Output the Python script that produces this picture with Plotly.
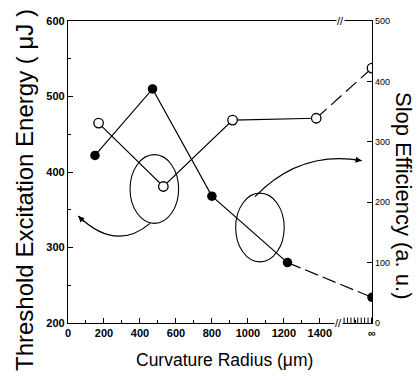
import plotly.graph_objects as go

# ---- data ----
X_INF = 1690  # axis position used for the "infinite" radius
radius_filled = [150, 470, 800, 1220, X_INF]
threshold_energy = [422, 510, 368, 280, 234]          # left axis (uJ)
radius_open = [170, 530, 915, 1380, X_INF]
slope_efficiency = [331, 226, 336, 339, 422]          # right axis (a.u.)
x_tick_vals = [0, 200, 400, 600, 800, 1000, 1200, 1400, X_INF]
x_tick_text = ["0", "200", "400", "600", "800", "1000", "1200", "1400", "∞"]
y_left_ticks = [200, 300, 400, 500, 600]
y_right_ticks = [0, 100, 200, 300, 400, 500]

FONT = "Liberation Sans, Arial"
TITLE_FONT = "Liberation Sans, Arial"

fig = go.Figure()

# filled circles: threshold energy (solid then dashed last segment)
fig.add_trace(go.Scatter(x=radius_filled[:4], y=threshold_energy[:4], mode="lines",
                         line=dict(color="black", width=1.2), showlegend=False))
fig.add_trace(go.Scatter(x=radius_filled[3:], y=threshold_energy[3:], mode="lines",
                         line=dict(color="black", width=1.2, dash="14px,5px"), showlegend=False))
fig.add_trace(go.Scatter(x=radius_filled, y=threshold_energy, mode="markers",
                         marker=dict(color="black", size=9.5, symbol="circle"), showlegend=False))

# open circles: slope efficiency on right axis
fig.add_trace(go.Scatter(x=radius_open[:4], y=slope_efficiency[:4], mode="lines", yaxis="y2",
                         line=dict(color="black", width=1.2), showlegend=False))
fig.add_trace(go.Scatter(x=radius_open[3:], y=slope_efficiency[3:], mode="lines", yaxis="y2",
                         line=dict(color="black", width=1.2, dash="14px,6px"), showlegend=False))
fig.add_trace(go.Scatter(x=radius_open, y=slope_efficiency, mode="markers", yaxis="y2",
                         marker=dict(color="white", size=9.5, symbol="circle",
                                     line=dict(color="black", width=1.3)), showlegend=False))

shapes = []
# ellipses marking the series
shapes.append(dict(type="circle", xref="x", yref="y", x0=345, x1=615, y0=332, y1=423,
                   line=dict(color="black", width=1.1)))
shapes.append(dict(type="circle", xref="x", yref="y", x0=932, x1=1202, y0=281, y1=372,
                   line=dict(color="black", width=1.1)))
# curved arrows
shapes.append(dict(type="path", xref="x", yref="y",
                   path="M 456,332 Q 266,293.6 57.3,341.7",
                   line=dict(color="black", width=1.2)))
shapes.append(dict(type="path", xref="x", yref="y",
                   path="M 1039.5,367.3 Q 1289.6,429.1 1632.6,415",
                   line=dict(color="black", width=1.2)))
# dense ticks after the axis break
for i in range(9):
    xv = 1535 + i * 19
    shapes.append(dict(type="line", xref="x", yref="paper", x0=xv, x1=xv, y0=0, y1=0.018,
                       line=dict(color="black", width=1)))
fig.update_layout(shapes=shapes)

annotations = [
    dict(x=57.3, y=341.7, xref="x", yref="y", ax=7, ay=7, showarrow=True,
         arrowhead=2, arrowsize=1, arrowwidth=1.2, arrowcolor="black", text="", standoff=0),
    dict(x=1632.6, y=415, xref="x", yref="y", ax=-9, ay=-1.5, showarrow=True,
         arrowhead=2, arrowsize=1, arrowwidth=1.2, arrowcolor="black", text="", standoff=0),
    # axis break marks
    dict(x=1517, y=1, xref="x", yref="paper", text="//", showarrow=False, yanchor="middle",
         font=dict(family=TITLE_FONT, size=11, color="black"), bgcolor="white", borderpad=0),
    dict(x=1505, y=0, xref="x", yref="paper", text="//", showarrow=False, yanchor="middle",
         font=dict(family=TITLE_FONT, size=11, color="black"), bgcolor="white", borderpad=0),
    # titles
    dict(x=24, y=190, xref="paper", yref="paper", text="Threshold Excitation Energy ( μJ )",
         textangle=-90, showarrow=False, font=dict(family=TITLE_FONT, size=24, color="black")),
    dict(x=403, y=195, xref="paper", yref="paper", text="Slop Efficiency (a. u.)",
         textangle=90, showarrow=False, font=dict(family=TITLE_FONT, size=22, color="black")),
    dict(x=224, y=360, xref="paper", yref="paper", text="Curvature Radius (μm)",
         showarrow=False, font=dict(family=TITLE_FONT, size=17.5, color="black")),
]
# convert pixel positions for titles into paper coordinates
L, R, T, B = 68, 45, 21, 57
W, H = 417, 380
pw, ph = W - L - R, H - T - B
for a in annotations[4:]:
    a["x"] = (a["x"] - L) / pw
    a["y"] = 1 - (a["y"] - T) / ph
    a["xanchor"] = "center"
    a["yanchor"] = "middle"
fig.update_layout(annotations=annotations)

fig.update_layout(
    width=W, height=H,
    margin=dict(l=L, r=R, t=T, b=B),
    paper_bgcolor="white", plot_bgcolor="white",
    xaxis=dict(range=[0, X_INF], tickvals=x_tick_vals, ticktext=x_tick_text,
               showgrid=False, zeroline=False, showline=True, linecolor="black", linewidth=1.3,
               mirror=True, ticks="inside", ticklen=5, tickcolor="black",
               minor=dict(ticks="inside", ticklen=3, dtick=100, tick0=0, tickcolor="black"),
               tickfont=dict(family=FONT, size=11, color="black", weight="bold")),
    yaxis=dict(range=[200, 600], tickvals=y_left_ticks,
               showgrid=False, zeroline=False, showline=True, linecolor="black", linewidth=1.3,
               ticks="inside", ticklen=5, tickcolor="black",
               minor=dict(ticks="inside", ticklen=3, dtick=50, tick0=200, tickcolor="black"),
               tickfont=dict(family=FONT, size=11, color="black", weight="bold")),
    yaxis2=dict(range=[0, 500], tickvals=y_right_ticks, overlaying="y", side="right",
                showgrid=False, zeroline=False, showline=True, linecolor="black", linewidth=1.3,
                ticks="inside", ticklen=5, tickcolor="black",
                tickfont=dict(family=FONT, size=9, color="black")),
)

fig.write_html("out.html")
